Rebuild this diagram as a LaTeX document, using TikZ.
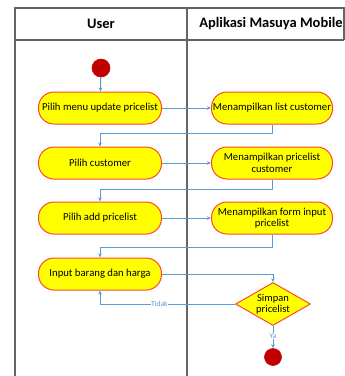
\documentclass[tikz,border=0pt]{standalone}
\usepackage{fontspec}
\setmainfont{Carlito}
\usetikzlibrary{arrows.meta,shapes.geometric,calc}
\definecolor{flowblue}{RGB}{91,155,213}
\definecolor{actborder}{RGB}{255,70,40}
\definecolor{actfill}{RGB}{255,255,0}
\definecolor{dotfill}{RGB}{192,0,0}
\definecolor{frame}{RGB}{100,100,100}
\begin{document}
\begin{tikzpicture}[x=1pt,y=1pt,
  action/.style={draw=actborder,fill=actfill,line width=1pt,rounded corners=15.5pt,
    minimum width=123pt,minimum height=32pt,align=center,inner sep=0.5pt,font=\fontsize{10.7}{11.5}\selectfont},
  decision/.style={draw=actborder,fill=actfill,line width=1pt,diamond,aspect=1.75,inner sep=0pt,
    minimum width=75pt,minimum height=43pt,align=center,font=\fontsize{10.5}{11.5}\selectfont},
  dot/.style={circle,fill=dotfill,draw=red!80!black,line width=0.6pt,inner sep=0pt},
  flow/.style={draw=flowblue,line width=1pt,-{Stealth[length=4pt,width=3.5pt]}},
  lbl/.style={text=flowblue,fill=white,inner sep=0.5pt,font=\fontsize{7.5}{8}\selectfont},
  hdr/.style={font=\fontsize{14.5}{16}\selectfont\bfseries},
  framel/.style={draw=frame,line width=1.3pt}]
\useasboundingbox (0,0) rectangle (345,-376);
% frame
\draw[framel] (15,-376) -- (15,-8) -- (344,-8) -- (344,-40);
\draw[framel] (15,-40) -- (344,-40);
\draw[framel] (187,-8) -- (187,-376);
\node[hdr] (h1) at (101,-24) {User};
\node[hdr] (h2) at (271,-24) {Aplikasi Masuya Mobile};
% nodes
\node[dot,minimum size=18pt] (start) at (101,-68) {};
\node[action] (a1) at (100,-108) {Pilih menu update pricelist};
\node[action,minimum width=121pt] (b1) at (272,-108) {Menampilkan list customer};
\node[action] (a2) at (100,-163) {Pilih customer};
\node[action,minimum width=121pt] (b2) at (272,-163) {Menampilkan pricelist\\customer};
\node[action] (a3) at (100,-218) {Pilih add pricelist};
\node[action,minimum width=121pt] (b3) at (272,-218) {Menampilkan form input\\pricelist};
\node[action] (a4) at (100,-274) {Input barang dan harga};
\node[decision] (d) at (273,-304) {Simpan\\pricelist};
\node[dot,minimum size=17pt] (end) at (273,-357) {};
% connectors
\draw[flow] (start) -- (a1);
\draw[flow] (a1) -- (b1);
\draw[flow] (b1.south) -- ++(0,-9) -| (a2.north);
\draw[flow] (a2) -- (b2);
\draw[flow] (b2.south) -- ++(0,-10) -| (a3.north);
\draw[flow] (a3) -- (b3);
\draw[flow] (b3.south) -- ++(0,-13) -| (a4.north);
\draw[flow] (a4.east) -| (d.north);
\draw[flow] (d.west) -| node[lbl,pos=0.28] (tidak) {Tidak} (a4.south);
\draw[flow] (d.south) -- node[lbl,pos=0.45] (ya) {Ya} (end);
\end{tikzpicture}
\end{document}
